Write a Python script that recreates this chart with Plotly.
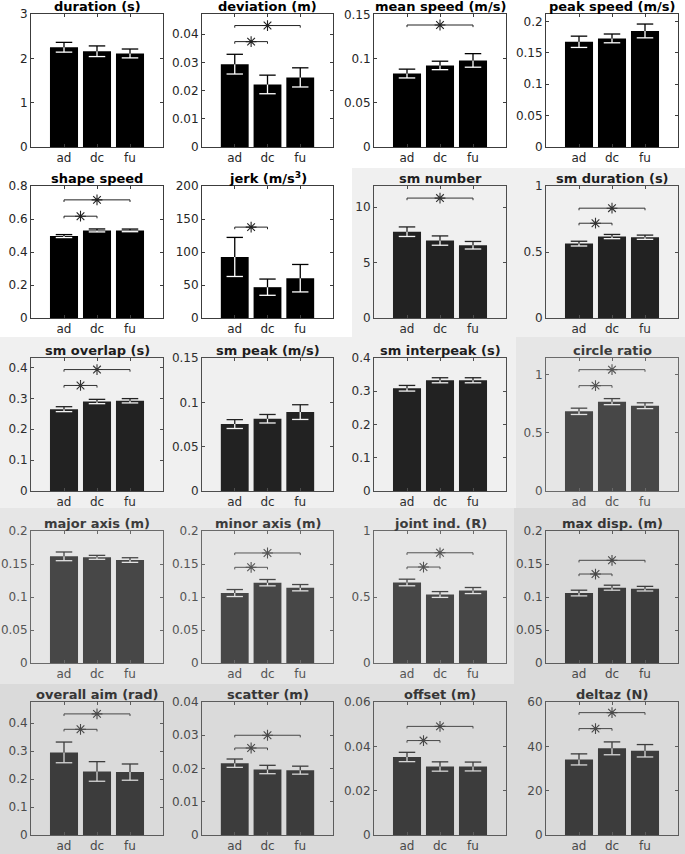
import plotly.graph_objects as go

W, H = 685, 854

categories = ["ad", "dc", "fu"]

titles = ["duration (s)", "deviation (m)", "mean speed (m/s)", "peak speed (m/s)",
          "shape speed", "jerk (m/s<sup>3</sup>)", "sm number", "sm duration (s)",
          "sm overlap (s)", "sm peak (m/s)", "sm interpeak (s)", "circle ratio",
          "major axis (m)", "minor axis (m)", "joint ind. (R)", "max disp. (m)",
          "overall aim (rad)", "scatter (m)", "offset (m)", "deltaz (N)"]

means = [
    [2.25, 2.16, 2.11],
    [0.0294, 0.0222, 0.0247],
    [0.0834, 0.0926, 0.0983],
    [0.1677, 0.1731, 0.185],
    [0.4965, 0.5307, 0.531],
    [92.5, 46.7, 60.3],
    [7.78, 6.98, 6.56],
    [0.5635, 0.617, 0.612],
    [0.2652, 0.290, 0.2924],
    [0.0755, 0.0815, 0.089],
    [0.309, 0.333, 0.333],
    [0.683, 0.766, 0.731],
    [0.1616, 0.1601, 0.156],
    [0.106, 0.1217, 0.1141],
    [0.61, 0.519, 0.549],
    [0.106, 0.1141, 0.1126],
    [0.295, 0.227, 0.2246],
    [0.0216, 0.0197, 0.0195],
    [0.0352, 0.0309, 0.0309],
    [34.1, 39.1, 38.0],
]

errors = [
    [0.11, 0.12, 0.10],
    [0.0035, 0.0033, 0.0034],
    [0.0050, 0.0048, 0.0077],
    [0.009, 0.007, 0.011],
    [0.009, 0.009, 0.008],
    [29.6, 12.3, 20.8],
    [0.43, 0.42, 0.34],
    [0.018, 0.016, 0.016],
    [0.008, 0.007, 0.007],
    [0.005, 0.0048, 0.0083],
    [0.0085, 0.0076, 0.0076],
    [0.027, 0.026, 0.025],
    [0.0066, 0.003, 0.0035],
    [0.0053, 0.0048, 0.0048],
    [0.025, 0.022, 0.023],
    [0.0043, 0.0038, 0.0035],
    [0.037, 0.035, 0.029],
    [0.00125, 0.00126, 0.0012],
    [0.0021, 0.0021, 0.002],
    [2.5, 2.9, 2.8],
]

ymax = [3, 0.0472, 0.151, 0.212, 0.8, 200, 11.9, 1.0, 0.431, 0.15,
        0.4, 1.14, 0.2, 0.2, 1.0, 0.2, 0.475, 0.04, 0.06, 60]

yticks = [
    [0, 1, 2, 3],
    [0, 0.01, 0.02, 0.03, 0.04],
    [0, 0.05, 0.1, 0.15],
    [0, 0.05, 0.1, 0.15, 0.2],
    [0, 0.2, 0.4, 0.6, 0.8],
    [0, 50, 100, 150, 200],
    [0, 5, 10],
    [0, 0.5, 1],
    [0, 0.1, 0.2, 0.3, 0.4],
    [0, 0.05, 0.1, 0.15],
    [0, 0.1, 0.2, 0.3, 0.4],
    [0, 0.5, 1],
    [0, 0.05, 0.1, 0.15, 0.2],
    [0, 0.05, 0.1, 0.15, 0.2],
    [0, 0.5, 1],
    [0, 0.05, 0.1, 0.15, 0.2],
    [0, 0.1, 0.2, 0.3, 0.4],
    [0, 0.01, 0.02, 0.03, 0.04],
    [0, 0.02, 0.04, 0.06],
    [0, 20, 40, 60],
]

# significance brackets: (first bar index, second bar index, height)
brackets = [
    [], [(0, 1, 0.0374), (0, 2, 0.0431)], [(0, 2, 0.1385)], [],
    [(0, 1, 0.617), (0, 2, 0.716)], [(0, 1, 137.7)],
    [(0, 2, 10.81)], [(0, 1, 0.718), (0, 2, 0.832)],
    [(0, 1, 0.342), (0, 2, 0.3935)], [], [], [(0, 1, 0.903), (0, 2, 1.04)],
    [], [(0, 1, 0.145), (0, 2, 0.1667)], [(0, 1, 0.727), (0, 2, 0.835)],
    [(0, 1, 0.1348), (0, 2, 0.1556)],
    [(0, 1, 0.3775), (0, 2, 0.4325)], [(0, 1, 0.02616), (0, 2, 0.03)],
    [(0, 1, 0.0426), (0, 2, 0.049)], [(0, 1, 48.0), (0, 2, 55.2)],
]

shade = [0] * 6 + [1] * 5 + [2] * 4 + [3] * 5

styles = [
    dict(bg="#ffffff", bar="#000000", inner="#ffffff", text="#262626", title="#000000", line="#3c3c3c", sig="#222222"),
    dict(bg="#f0f0f0", bar="#222222", inner="#f2f2f2", text="#2e2e2e", title="#1e1e1e", line="#4d4d4d", sig="#333333"),
    dict(bg="#e6e6e6", bar="#474747", inner="#e2e2e2", text="#555555", title="#3c3c3c", line="#6a6a6a", sig="#555555"),
    dict(bg="#dadada", bar="#3c3c3c", inner="#d6d6d6", text="#4a4a4a", title="#363636", line="#5c5c5c", sig="#484848"),
]

col_px = [(31, 163), (202, 333), (374, 506), (546, 678)]
row_px = [(14, 147), (186, 318), (358, 491), (531, 663), (702, 835)]

FONT = "DejaVu Sans"
fig = go.Figure()
layout = dict(width=W, height=H, margin=dict(l=0, r=0, t=0, b=0, autoexpand=False),
              paper_bgcolor="#ffffff", plot_bgcolor="rgba(0,0,0,0)",
              showlegend=False, shapes=[], annotations=[])

# background shading regions (paper coords, px)
regions = [
    (1, 352, 168, 685, 337), (1, 0, 337, 516, 508),
    (2, 516, 337, 685, 508), (2, 0, 508, 514, 684),
    (3, 514, 508, 685, 684), (3, 0, 684, 685, 854),
]
for g, x0, y0, x1, y1 in regions:
    layout["shapes"].append(dict(type="rect", xref="paper", yref="paper", layer="below",
                                 x0=x0 / W, x1=x1 / W, y0=1 - y1 / H, y1=1 - y0 / H,
                                 fillcolor=styles[g]["bg"], line=dict(width=0)))

xpos = [1, 2, 3]
cap = 0.25
for k in range(20):
    r, c = divmod(k, 4)
    st = styles[shade[k]]
    xa = "x" if k == 0 else f"x{k+1}"
    ya = "y" if k == 0 else f"y{k+1}"
    m = means[k]
    e = errors[k]
    fig.add_trace(go.Bar(x=xpos, y=m, width=0.85, marker=dict(color=st["bar"], line=dict(width=0)),
                         xaxis=xa, yaxis=ya, hoverinfo="skip"))
    # error bars: lower part inside bar (light), upper part above bar (dark)
    lx, ly, ux, uy = [], [], [], []
    for i in range(3):
        xi = xpos[i]
        lx += [xi, xi, None, xi - cap, xi + cap, None]
        ly += [m[i] - e[i], m[i], None, m[i] - e[i], m[i] - e[i], None]
        ux += [xi, xi, None, xi - cap, xi + cap, None]
        uy += [m[i], m[i] + e[i], None, m[i] + e[i], m[i] + e[i], None]
    fig.add_trace(go.Scatter(x=lx, y=ly, mode="lines", line=dict(color=st["inner"], width=1.3),
                             xaxis=xa, yaxis=ya, hoverinfo="skip"))
    fig.add_trace(go.Scatter(x=ux, y=uy, mode="lines", line=dict(color=st["bar"], width=1.3),
                             xaxis=xa, yaxis=ya, hoverinfo="skip"))
    # significance brackets
    if brackets[k]:
        bx, by, sx, sy = [], [], [], []
        t = 0.016 * ymax[k]
        for (a, b, h) in brackets[k]:
            xa_, xb_ = xpos[a], xpos[b]
            bx += [xa_, xa_, xb_, xb_, None]
            by += [h - t, h, h, h - t, None]
            sx.append((xa_ + xb_) / 2)
            sy.append(h)
        fig.add_trace(go.Scatter(x=bx, y=by, mode="lines", line=dict(color=st["sig"], width=1),
                                 xaxis=xa, yaxis=ya, hoverinfo="skip"))
        fig.add_trace(go.Scatter(x=sx, y=sy, mode="markers",
                                 marker=dict(symbol="asterisk-open", size=9, color=st["sig"],
                                             line=dict(color=st["sig"], width=1.1)),
                                 xaxis=xa, yaxis=ya, hoverinfo="skip"))
    x0, x1 = col_px[c]
    y0, y1 = row_px[r]
    axcommon = dict(showline=True, linecolor=st["line"], linewidth=1, mirror="ticks",
                    ticks="inside", ticklen=3, tickcolor=st["line"], tickwidth=1,
                    showgrid=False, zeroline=False, fixedrange=True, automargin=False,
                    tickfont=dict(family=FONT, size=12, color=st["text"]))
    layout["xaxis" if k == 0 else f"xaxis{k+1}"] = dict(
        domain=[x0 / W, x1 / W], anchor=ya, range=[0, 4],
        tickvals=xpos, ticktext=categories, **axcommon)
    layout["yaxis" if k == 0 else f"yaxis{k+1}"] = dict(
        domain=[1 - y1 / H, 1 - y0 / H], anchor=xa, range=[0, ymax[k]],
        tickvals=yticks[k], ticktext=[f"{v:g}" for v in yticks[k]], **axcommon)
    layout["annotations"].append(dict(
        text=f"<b>{titles[k]}</b>", xref="paper", yref="paper",
        x=(x0 + x1) / 2 / W, y=1 - y0 / H, xanchor="center", yanchor="bottom",
        yshift=-1, showarrow=False, borderpad=0,
        font=dict(family=FONT, size=13, color=st["title"])))

fig.update_layout(**layout)
fig.write_html("out.html", config={"displayModeBar": False},
               post_script="document.body.style.margin='0';document.body.style.overflow='hidden';")
